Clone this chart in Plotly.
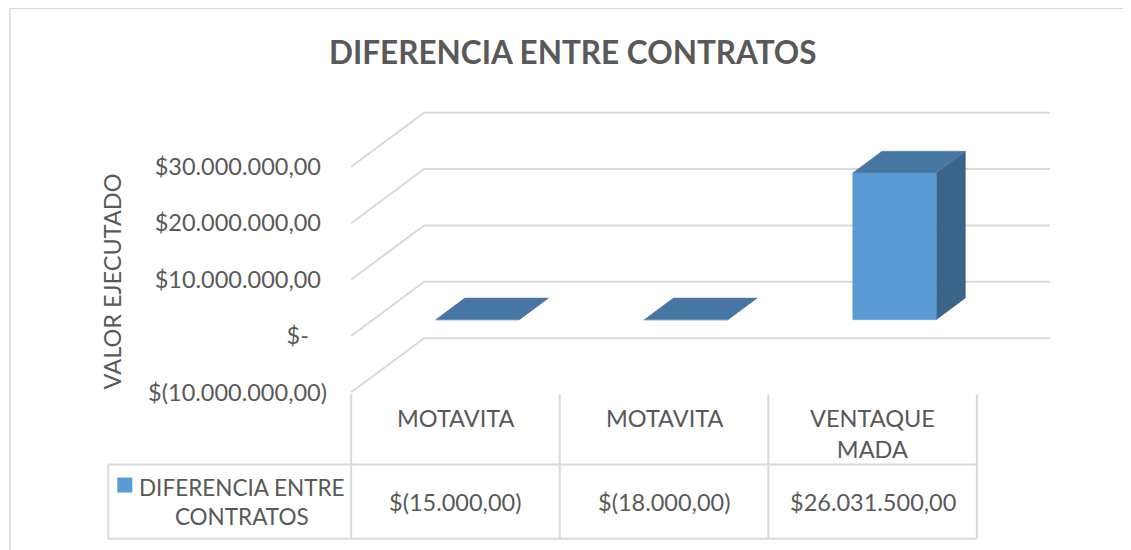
import plotly.graph_objects as go

# ---------------- data ----------------
categories = ["MOTAVITA", "MOTAVITA", "VENTAQUE<br>MADA"]
values = [-15000, -18000, 26031500]
series_name = "DIFERENCIA ENTRE<br>CONTRATOS"
y_tickvals = [-10000000, 0, 10000000, 20000000, 30000000]
chart_title = "DIFERENCIA ENTRE CONTRATOS"
axis_title = "VALOR EJECUTADO"


def fmt_money(v):
    if v == 0:
        return "$-"
    s = f"{abs(v):,.2f}".replace(",", "X").replace(".", ",").replace("X", ".")
    return f"$({s})" if v < 0 else f"${s}"


value_labels = [fmt_money(v) for v in values]
NB = "\u00a0"
y_ticktext = [fmt_money(v) + ("" if v < 0 else (NB * 3 if v == 0 else NB)) for v in y_tickvals]

# ---------------- layout constants (screen pixels) ----------------
WIN_W, WIN_H = 1131, 550
OFF = 8                 # default page body margin
FIG_W, FIG_H = WIN_W - OFF, WIN_H - OFF
PX_X = 208.7            # pixels per category
PX_Y = 5.625e-6         # pixels per value unit
DX = 73 / PX_X          # depth offset (x units)
DY = 54 / PX_Y          # depth offset (value units)
D0, D1 = 0.30, 0.70     # bar depth extent
BAR_HALF = 0.2
PADX, PADY = 0.02, 0.3e6

x_range = [-0.5 - PADX, 2.5 + DX + PADX]
y_range = [-10e6 - PADY, 30e6 + DY + PADY]
L = 351 - PADX * PX_X
R = L + (x_range[1] - x_range[0]) * PX_X
T = 113 - PADY * PX_Y
B = 392 + PADY * PX_Y

TXT = "#595959"
GRID = "#d9d9d9"
FONT = "Lato"
FS = 23.5


def pxx(px):
    return (px - L) / (R - L)


def pxy(py):
    return (B - py) / (B - T)


def P(x, v, d):
    return x + d * DX, v + d * DY


fig = go.Figure()

# gridlines on wall (front diagonal + back horizontal)
gx, gy = [], []
for v in y_tickvals:
    for (x, d) in [(-0.5, 0), (-0.5, 1), (2.5, 1)]:
        px_, py_ = P(x, v, d)
        gx.append(px_)
        gy.append(py_)
    gx.append(None)
    gy.append(None)
fig.add_trace(go.Scatter(x=gx, y=gy, mode="lines", line=dict(color=GRID, width=2),
                         hoverinfo="skip", showlegend=False))

# 3D bars
FRONT, TOP, SIDE = "#5B9BD5", "#4676A1", "#3B6489"
for i, val in enumerate(values):
    x0, x1 = i - BAR_HALF, i + BAR_HALF
    v0, v1 = min(0, val), max(0, val)
    faces = [
        ([(x1, v0, D0), (x1, v0, D1), (x1, v1, D1), (x1, v1, D0)], SIDE),
        ([(x0, v1, D0), (x1, v1, D0), (x1, v1, D1), (x0, v1, D1)], TOP),
        ([(x0, v0, D0), (x1, v0, D0), (x1, v1, D0), (x0, v1, D0)], FRONT),
    ]
    for pts, col in faces:
        xs, ys = zip(*[P(*p) for p in pts])
        fig.add_trace(go.Scatter(x=list(xs) + [xs[0]], y=list(ys) + [ys[0]], mode="lines",
                                 fill="toself", fillcolor=col, line=dict(color=col, width=0.5),
                                 hoverinfo="skip", showlegend=False))

shapes = []
# chart border
shapes.append(dict(type="rect", xref="paper", yref="paper", x0=pxx(9.5), x1=pxx(1129),
                   y0=pxy(8.8), y1=pxy(560), line=dict(color=GRID, width=1.5)))
# table vertical lines at category boundaries
for xb in [-0.5, 0.5, 1.5, 2.5]:
    shapes.append(dict(type="line", xref="x", yref="paper", x0=xb, x1=xb,
                       y0=pxy(394), y1=pxy(538), line=dict(color=GRID, width=2)))
# table horizontal lines
for yy in [464, 538]:
    shapes.append(dict(type="line", xref="paper", yref="paper", x0=pxx(108), x1=pxx(977),
                       y0=pxy(yy), y1=pxy(yy), line=dict(color=GRID, width=2)))
shapes.append(dict(type="line", xref="paper", yref="paper", x0=pxx(108), x1=pxx(108),
                   y0=pxy(464), y1=pxy(538), line=dict(color=GRID, width=2)))
# legend key
shapes.append(dict(type="rect", xref="paper", yref="paper", x0=pxx(117), x1=pxx(132),
                   y0=pxy(492), y1=pxy(477), line=dict(width=0), fillcolor=FRONT))

annotations = []
annotations.append(dict(text=f"<b>{chart_title}</b>", xref="paper", yref="paper",
                        x=pxx(573), y=pxy(52), showarrow=False, xanchor="center", yanchor="middle",
                        font=dict(family=FONT, size=31.5, color=TXT)))
annotations.append(dict(text=axis_title, xref="paper", yref="paper", x=pxx(112), y=pxy(281),
                        textangle=-90, showarrow=False, xanchor="center", yanchor="middle",
                        font=dict(family=FONT, size=FS, color=TXT)))
for i, (c, lab) in enumerate(zip(categories, value_labels)):
    annotations.append(dict(text=c, xref="x", yref="paper", x=i, y=pxy(402), showarrow=False,
                            xanchor="center", yanchor="top",
                            font=dict(family=FONT, size=FS, color=TXT)))
    annotations.append(dict(text=lab, xref="x", yref="paper", x=i, y=pxy(501), showarrow=False,
                            xanchor="center", yanchor="middle",
                            font=dict(family=FONT, size=FS, color=TXT)))
annotations.append(dict(text=series_name, xref="paper", yref="paper", x=pxx(241.5), y=pxy(501),
                        showarrow=False, xanchor="center", yanchor="middle",
                        font=dict(family=FONT, size=22.5, color=TXT)))

fig.update_layout(
    width=FIG_W, height=FIG_H,
    margin=dict(l=L - OFF, r=WIN_W - R, t=T - OFF, b=WIN_H - B, pad=0),
    paper_bgcolor="white", plot_bgcolor="white",
    showlegend=False,
    shapes=shapes, annotations=annotations,
    xaxis=dict(range=x_range, showgrid=False, zeroline=False, showticklabels=False,
               showline=False, fixedrange=True),
    yaxis=dict(range=y_range, showgrid=False, zeroline=False, showline=False,
               tickmode="array", tickvals=y_tickvals, ticktext=y_ticktext,
               ticks="", ticklabelstandoff=19, fixedrange=True,
               tickfont=dict(family=FONT, size=FS, color=TXT)),
)

fig.write_html("out.html")
